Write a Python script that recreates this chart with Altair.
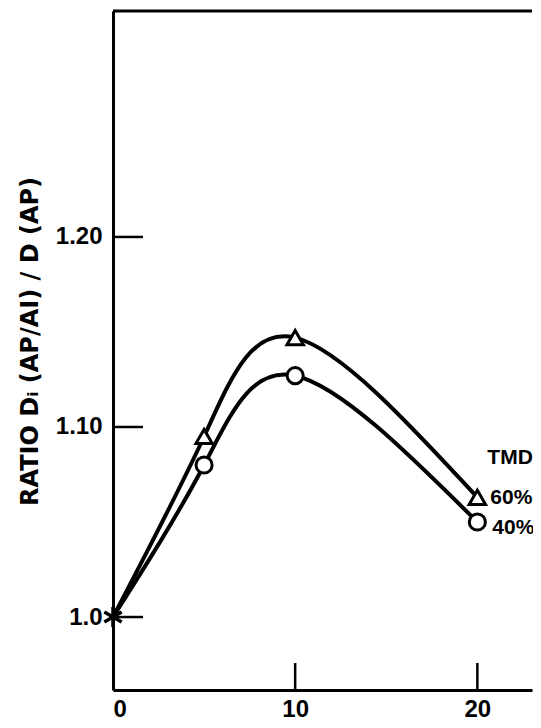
import altair as alt
import pandas as pd

# ---- data ----
tmd_60_x = [0, 5, 10, 20]
tmd_60_y = [1.000, 1.095, 1.147, 1.063]
tmd_40_x = [0, 5, 10, 20]
tmd_40_y = [1.000, 1.080, 1.127, 1.050]
series_names = ["60%", "40%"]
origin_x = [0]
origin_y = [1.0]
x_tick_values = [0, 10, 20]
y_tick_values = [1.0, 1.1, 1.2]
legend_title = "TMD"
y_title = "RATIO Dᵢ (AP/AI) / D (AP)"

W, H = 419, 679
FONT = "Liberation Sans"
TITLE_FONT = "DejaVu Sans"

lines_df = pd.DataFrame(
    {"x": tmd_60_x + tmd_40_x,
     "y": tmd_60_y + tmd_40_y,
     "s": [series_names[0]] * len(tmd_60_x) + [series_names[1]] * len(tmd_40_x)}
)
tri_df = pd.DataFrame({"x": tmd_60_x[1:], "y": tmd_60_y[1:]})
circ_df = pd.DataFrame({"x": tmd_40_x[1:], "y": tmd_40_y[1:]})
origin_df = pd.DataFrame({"x": origin_x, "y": origin_y})
ytick_df = pd.DataFrame({"y": y_tick_values})
xtick_df = pd.DataFrame({"x": x_tick_values[1:]})
lab60_df = pd.DataFrame({"x": [tmd_60_x[-1]], "y": [tmd_60_y[-1]], "t": [series_names[0]]})
lab40_df = pd.DataFrame({"x": [tmd_40_x[-1]], "y": [tmd_40_y[-1]], "t": [series_names[1]]})
labtmd_df = pd.DataFrame({"x": [tmd_60_x[-1]], "y": [tmd_60_y[-1]], "t": [legend_title]})

xscale = alt.Scale(domain=[0, 23], nice=False, zero=False)
yscale = alt.Scale(domain=[0.9616, 1.3189], nice=False, zero=False)

x_enc = alt.X(
    "x:Q", scale=xscale,
    axis=alt.Axis(values=x_tick_values, title=None, ticks=False, grid=False,
                  domainWidth=3, domainColor="black", labelPadding=7,
                  labelFontSize=24, labelFont=FONT, labelFontWeight="bold",
                  labelColor="black"),
)
y_enc = alt.Y(
    "y:Q", scale=yscale,
    axis=alt.Axis(values=y_tick_values, title=y_title, ticks=False, grid=False,
                  domainWidth=3, domainColor="black", labelPadding=11,
                  labelExpr="datum.value == 1 ? '1.0' : format(datum.value, '.2f')",
                  labelFontSize=24, labelFont=FONT, labelFontWeight="bold",
                  labelColor="black", titleFontSize=24, titleFont=TITLE_FONT,
                  titleFontWeight="bold", titleColor="black", titleAngle=270,
                  titleX=-83, titleY=330, titleAlign="center",
                  titleBaseline="middle"),
)

lines = alt.Chart(lines_df).mark_line(
    interpolate="natural", color="black", strokeWidth=4
).encode(x=x_enc, y=y_enc, detail="s:N")

tris = alt.Chart(tri_df).mark_point(
    shape="triangle-up", size=270, filled=True, fill="white",
    stroke="black", strokeWidth=3, opacity=1
).encode(x=x_enc, y=y_enc)

circs = alt.Chart(circ_df).mark_point(
    shape="circle", size=260, filled=True, fill="white",
    stroke="black", strokeWidth=3, opacity=1
).encode(x=x_enc, y=y_enc)

asterisk = alt.Chart(origin_df).mark_point(
    shape="M0,-1L0,1M-0.866,-0.5L0.866,0.5M-0.866,0.5L0.866,-0.5",
    size=400, filled=False, stroke="black", strokeWidth=3.5, opacity=1
).encode(x=x_enc, y=y_enc)

yticks = alt.Chart(ytick_df).mark_rule(color="black", strokeWidth=2.5).encode(
    y=y_enc, x=alt.value(0), x2=alt.value(30)
)
xticks = alt.Chart(xtick_df).mark_rule(color="black", strokeWidth=2.5).encode(
    x=x_enc, y=alt.value(H), y2=alt.value(H - 27)
)
top_border = alt.Chart(origin_df).mark_rule(color="black", strokeWidth=3).encode(
    x=alt.value(0), x2=alt.value(W), y=alt.value(0)
)

text_style = dict(font=FONT, fontSize=21, fontWeight="bold", color="black",
                  align="left", baseline="middle")
lab60 = alt.Chart(lab60_df).mark_text(dx=13, dy=1, **text_style).encode(
    x=x_enc, y=y_enc, text="t:N")
lab40 = alt.Chart(lab40_df).mark_text(dx=15, dy=6, **text_style).encode(
    x=x_enc, y=y_enc, text="t:N")
labtmd = alt.Chart(labtmd_df).mark_text(dx=10, dy=-39, **text_style).encode(
    x=x_enc, y=y_enc, text="t:N")

chart = alt.layer(
    lines, tris, circs, asterisk, yticks, xticks, top_border, lab60, lab40, labtmd
).properties(
    width=W, height=H,
    autosize=alt.AutoSizeParams(type="none"),
    padding={"left": 105, "top": 3, "right": 1, "bottom": 36},
).configure_view(strokeWidth=0)

chart.save("out.html", embed_options={"renderer": "svg", "actions": False})
